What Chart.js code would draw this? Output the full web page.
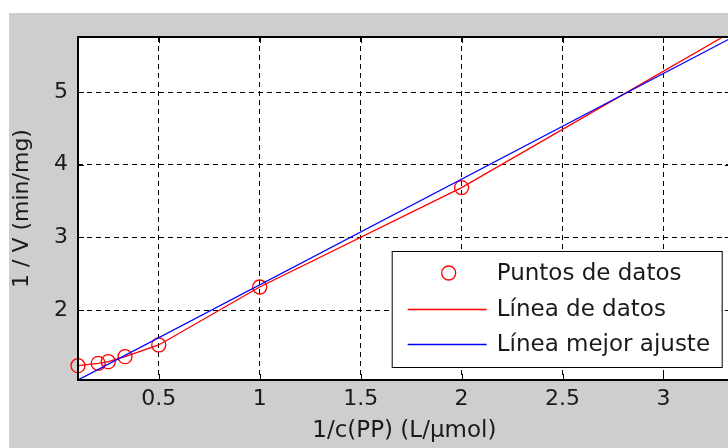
<!DOCTYPE html>
<html>
<head>
<meta charset="utf-8">
<script src="https://cdn.jsdelivr.net/npm/chart.js@4"></script>
<style>
  body { margin: 0; background: #fff; overflow: hidden; width: 728px; height: 448px; }
  #myChart { position: absolute; left: 9px; top: 13px; background: #cecece; }
</style>
</head>
<body>
<canvas id="myChart" width="730" height="435"></canvas>
<script>
// 1/c(PP) vs 1/V (Lineweaver-Burk)
const xData = [0.1, 0.2, 0.25, 0.333, 0.5, 1, 2, 3.333];
const yData = [1.234, 1.267, 1.289, 1.358, 1.519, 2.317, 3.685, 5.82];
const fitX = [0.1, 3.333];
const fitY = [1.037, 5.74];
const xTicks = [0.5, 1, 1.5, 2, 2.5, 3];
const yTicks = [2, 3, 4, 5];
const xMin = 0.1, xMax = 3.333, yMin = 1.037, yMax = 5.757;

const font = 'DejaVu Sans';

const pts = xData.map((v, i) => ({x: v, y: yData[i]}));
const fit = fitX.map((v, i) => ({x: v, y: fitY[i]}));

const frame = {
  id: 'frame',
  beforeDraw(chart) {
    const {ctx, chartArea: a} = chart;
    ctx.save();
    ctx.fillStyle = '#fff';
    ctx.fillRect(a.left, a.top, a.width, a.height);
    ctx.restore();
  },
  afterDatasetsDraw(chart) {
    const {ctx, chartArea: a, scales: {x, y}} = chart;
    ctx.save();
    ctx.strokeStyle = '#000';
    ctx.lineWidth = 1;
    ctx.beginPath();
    x.ticks.forEach(t => {
      const p = Math.round(x.getPixelForValue(t.value)) + 0.5;
      ctx.moveTo(p, a.bottom); ctx.lineTo(p, a.bottom - 6);
      ctx.moveTo(p, a.top); ctx.lineTo(p, a.top + 6);
    });
    y.ticks.forEach(t => {
      const p = Math.round(y.getPixelForValue(t.value)) + 0.5;
      ctx.moveTo(a.left, p); ctx.lineTo(a.left + 6, p);
      ctx.moveTo(a.right, p); ctx.lineTo(a.right - 6, p);
    });
    ctx.stroke();
    ctx.lineWidth = 2;
    ctx.strokeRect(a.left, a.top, a.width, a.height);
    ctx.restore();
  },
  afterDraw(chart) {
    // legend box, bottom right like matlab
    const {ctx, chartArea: a} = chart;
    const w = 330, h = 116;
    const L = a.right - 9 - w, T = a.bottom - 13 - h;
    ctx.save();
    ctx.fillStyle = '#fff';
    ctx.fillRect(L, T, w, h);
    ctx.strokeStyle = '#000';
    ctx.lineWidth = 1;
    ctx.strokeRect(L + 0.5, T + 0.5, w, h);
    ctx.font = '23px "' + font + '"';
    ctx.textBaseline = 'middle';
    ctx.fillStyle = '#1a1a1a';
    const rows = [22, 58, 93];
    chart.data.datasets.forEach((ds, i) => {
      const yy = T + rows[i];
      ctx.strokeStyle = ds.borderColor;
      ctx.lineWidth = 1.3;
      ctx.beginPath();
      if (ds.showLine === false) {
        ctx.arc(L + 57, yy, 7, 0, Math.PI * 2);
      } else {
        ctx.moveTo(L + 16, yy + 0.5); ctx.lineTo(L + 95, yy + 0.5);
      }
      ctx.stroke();
      ctx.fillText(ds.label, L + 105, yy + 1);
    });
    ctx.restore();
  }
};

const ctx = document.getElementById('myChart');

new Chart(ctx, {
  type: 'line',
  data: {
    datasets: [{
      label: 'Puntos de datos',
      data: pts,
      showLine: false,
      borderColor: '#ff0000',
      backgroundColor: 'rgba(0,0,0,0)',
      borderWidth: 1.3,
      pointRadius: c => (yData[c.dataIndex] > yMax || xData[c.dataIndex] > xMax) ? 0 : 7,
      pointStyle: 'circle',
      clip: {left: 10, top: 0, right: 0, bottom: 10},
      order: 1
    }, {
      label: 'Línea de datos',
      data: pts,
      borderColor: '#ff0000',
      borderWidth: 1.3,
      pointRadius: 0,
      tension: 0,
      order: 2
    }, {
      label: 'Línea mejor ajuste',
      data: fit,
      borderColor: '#0000ff',
      borderWidth: 1.3,
      pointRadius: 0,
      tension: 0,
      order: 0
    }]
  },
  options: {
    responsive: false,
    animation: false,
    devicePixelRatio: 1,
    layout: { padding: { top: 24, right: 8, left: 0, bottom: 0 } },
    plugins: {
      legend: { display: false },
      tooltip: { enabled: false }
    },
    scales: {
      x: {
        type: 'linear',
        min: xMin,
        max: xMax,
        afterBuildTicks: s => { s.ticks = xTicks.map(v => ({value: v})); },
        afterFit: s => { s.height = 68; },
        ticks: {
          font: { family: font, size: 22 },
          color: '#1a1a1a',
          padding: 6,
          callback: v => String(v)
        },
        grid: { color: '#000', lineWidth: 1, drawTicks: false },
        border: { display: false, dash: [5, 4] },
        title: {
          display: true,
          text: '1/c(PP) (L/\u00b5mol)',
          font: { family: font, size: 23 },
          color: '#1a1a1a',
          padding: { top: 0, bottom: 3 }
        }
      },
      y: {
        type: 'linear',
        min: yMin,
        max: yMax,
        afterBuildTicks: s => { s.ticks = yTicks.map(v => ({value: v})); },
        afterFit: s => { s.width = 69; },
        ticks: {
          font: { family: font, size: 22 },
          color: '#1a1a1a',
          padding: 10,
          callback: v => String(v)
        },
        grid: { color: '#000', lineWidth: 1, drawTicks: false },
        border: { display: false, dash: [5, 4] },
        title: {
          display: true,
          text: '1 / V (min/mg)',
          font: { family: font, size: 22 },
          color: '#1a1a1a',
          padding: { top: 0, bottom: 0 }
        }
      }
    }
  },
  plugins: [frame]
});
</script>
</body>
</html>
